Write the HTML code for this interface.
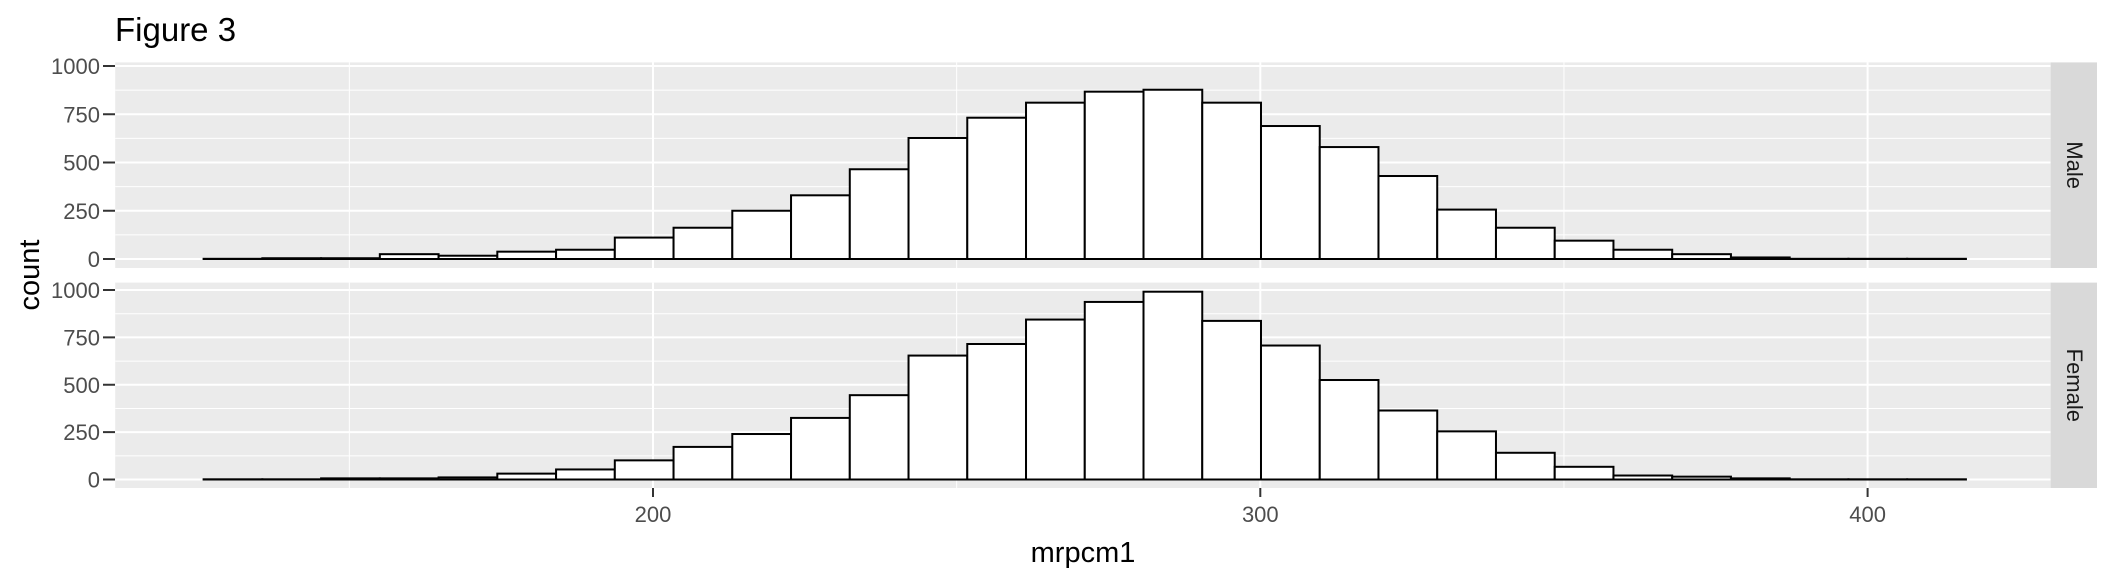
<!DOCTYPE html>
<html><head><meta charset="utf-8"><style>
html,body{margin:0;padding:0;background:#fff;}
svg{display:block;font-family:"Liberation Sans",Arial,sans-serif;}
</style></head><body>
<svg id="chart" width="2112" height="576" viewBox="0 0 2112 576">
<text x="115" y="41" font-size="33" fill="#000">Figure 3</text>
<text transform="translate(39,275) rotate(-90)" text-anchor="middle" font-size="29" fill="#000">count</text>
<text x="1083" y="562" text-anchor="middle" font-size="29" fill="#000">mrpcm1</text>
<g id="layer"></g>
</svg>
<script>
const binStart = 126.0;
const binWidth = 9.673;
const maleCounts = [1,4,4,25,17,38,48,111,162,250,330,465,627,732,810,867,877,810,689,580,430,256,162,95,48,25,8,1,1,1];
const femaleCounts = [1,1,6,6,11,31,53,101,172,240,325,445,654,715,844,937,991,837,707,525,364,254,141,67,21,15,6,1,1,1];
const xTicks = [200,300,400];
const xMinor = [150,250,350];
const yTicks = [0,250,500,750,1000];
const yMinor = [125,375,625,875];
const panelNames = ["Male","Female"];

const NS = "http://www.w3.org/2000/svg";
const layer = document.getElementById('layer');
const px0 = 115.2, px1 = 2050.6;
const xs = v => 653 + (v - 200) * 6.073;
const panels = [
  {top:62.4, bottom:268, y0:259, y1000:66, counts:maleCounts},
  {top:282.6, bottom:488, y0:479.5, y1000:290, counts:femaleCounts}
];
function mk(tag, attrs, parent){
  const e = document.createElementNS(NS, tag);
  for (const k in attrs) e.setAttribute(k, attrs[k]);
  (parent||layer).appendChild(e);
  return e;
}
panels.forEach((p, pi) => {
  const ys = c => p.y0 + (p.y1000 - p.y0) * c / 1000;
  const g = mk('g', {});
  
  
  const bg = mk('rect', {x:px0, y:p.top, width:px1-px0, height:p.bottom-p.top, fill:'#ebebeb'}, g);
  
  
  yMinor.forEach(v => { mk('line', {x1:px0, x2:px1, y1:ys(v), y2:ys(v), stroke:'#fff', 'stroke-width':1}, g); });
  xMinor.forEach(v => { mk('line', {x1:xs(v), x2:xs(v), y1:p.top, y2:p.bottom, stroke:'#fff', 'stroke-width':1}, g); });
  yTicks.forEach(v => {
    const l = mk('line', {x1:px0, x2:px1, y1:ys(v), y2:ys(v), stroke:'#fff', 'stroke-width':2}, g);
    
    
    mk('line', {x1:103, x2:115, y1:ys(v), y2:ys(v), stroke:'#333', 'stroke-width':2}, g);
    const t = mk('text', {x:100, y:ys(v)+8, 'text-anchor':'end', 'font-size':22, fill:'#4d4d4d'}, g);
    t.textContent = v;
    
    
  });
  xTicks.forEach(v => { mk('line', {x1:xs(v), x2:xs(v), y1:p.top, y2:p.bottom, stroke:'#fff', 'stroke-width':2}, g); });
  p.counts.forEach((c, i) => {
    const a = binStart + i * binWidth, b = a + binWidth;
    const r = mk('rect', {x:xs(a), y:ys(c), width:xs(b)-xs(a), height:ys(0)-ys(c), fill:'#fff', stroke:'#000', 'stroke-width':2}, g);
    
    
  });
  const strip = mk('rect', {x:px1, y:p.top, width:2097-px1, height:p.bottom-p.top, fill:'#d9d9d9'}, g);
  
  
  const cy = (p.top + p.bottom) / 2;
  const st = mk('text', {transform:`translate(${(px1+2097)/2-7},${cy}) rotate(90)`, 'text-anchor':'middle', 'font-size':22, fill:'#1a1a1a'}, g);
  st.textContent = panelNames[pi];
  
  
});
xTicks.forEach(v => {
  mk('line', {x1:xs(v), x2:xs(v), y1:488, y2:497, stroke:'#333', 'stroke-width':2});
  const t = mk('text', {x:xs(v), y:522, 'text-anchor':'middle', 'font-size':22, fill:'#4d4d4d'});
  t.textContent = v;
  
  
});
</script>
</body></html>
